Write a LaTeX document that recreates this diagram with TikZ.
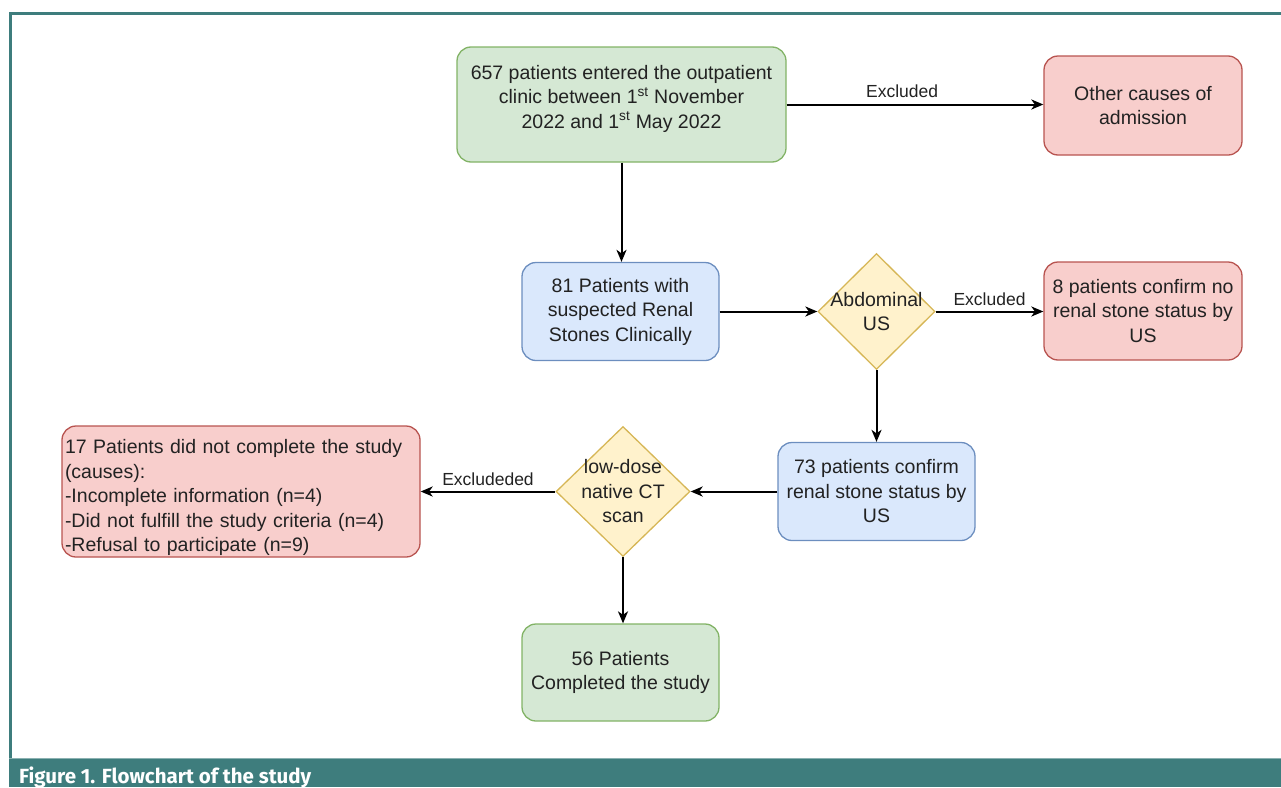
\documentclass[tikz,border=0pt]{standalone}
\usepackage{fontspec}
\setmainfont{Liberation Sans}
\newfontfamily\captionfont{Fira Sans}
\usepackage{tikz}
\usetikzlibrary{shapes.geometric,arrows.meta,positioning}

\definecolor{okfill}{HTML}{D5E8D4}
\definecolor{okline}{HTML}{82B366}
\definecolor{exfill}{HTML}{F8CECC}
\definecolor{exline}{HTML}{B85450}
\definecolor{stepfill}{HTML}{DAE8FC}
\definecolor{stepline}{HTML}{6C8EBF}
\definecolor{testfill}{HTML}{FFF2CC}
\definecolor{testline}{HTML}{D6B656}
\definecolor{frameteal}{HTML}{3E7D7D}
\definecolor{inktext}{HTML}{222222}

\tikzset{
  box/.style={draw, rounded corners=14pt, line width=1.3pt, align=center,
    inner sep=2pt, text=inktext, font=\fontsize{19.5}{24.5}\selectfont},
  okbox/.style={box, fill=okfill, draw=okline},
  exbox/.style={box, fill=exfill, draw=exline},
  stepbox/.style={box, fill=stepfill, draw=stepline},
  test/.style={diamond, draw=testline, fill=testfill, line width=1.3pt,
    inner sep=0pt, aspect=1},
  boxtext/.style={align=center, text=inktext, inner sep=0pt,
    font=\fontsize{19.5}{24.5}\selectfont},
  flow/.style={-{Stealth[length=12pt, width=10pt, inset=3.5pt]}, line width=2pt},
  lbl/.style={text=inktext, font=\fontsize{17.5}{21}\selectfont}
}

\begin{document}
\begin{tikzpicture}[x=1pt, y=-1pt]
\useasboundingbox (0,0) rectangle (1281,787);
% frame and caption bar
\fill[frameteal] (9,758) rectangle (1281,787);
\draw[frameteal!60!white, line width=1pt] (9,758.5) -- (1281,758.5);
\draw[frameteal, line width=3pt] (10.5,758) -- (10.5,13.5) -- (1281,13.5);
\node[anchor=base west, text=white, inner sep=0pt,
  font=\captionfont\bfseries\fontsize{20.5}{24}\selectfont] (caption) at (19,783)
  {Figure 1. Flowchart of the study};

% boxes
\node[okbox, minimum width=329, minimum height=115,
  label={[boxtext, yshift=6]center:657 patients entered the outpatient\\clinic between 1\textsuperscript{st} November\\2022 and 1\textsuperscript{st} May 2022}]
  (entered) at (621.5,104.5) {};
\node[exbox, minimum width=198, minimum height=99] (other_causes) at (1143,105.5)
  {Other causes of\\admission};
\node[stepbox, minimum width=197, minimum height=98] (suspected) at (620.5,311.5)
  {81 Patients with\\suspected Renal\\Stones Clinically};
\node[test, minimum width=117, minimum height=116,
  label={[boxtext]center:Abdominal\\US}] (abd_us) at (876.5,311.5) {};
\node[exbox, minimum width=198, minimum height=98] (no_stone) at (1143,311)
  {8 patients confirm no\\renal stone status by\\US};
\node[stepbox, minimum width=197, minimum height=98] (confirm) at (876.5,491.5)
  {73 patients confirm\\renal stone status by\\US};
\node[test, minimum width=134, minimum height=130,
  label={[boxtext]center:low-dose\\native CT\\scan}] (ct_scan) at (623,491.5) {};
\node[exbox, minimum width=358, minimum height=131,
  label={[boxtext, align=left, text width=352, yshift=-6]center:17 Patients did not complete the study\\(causes):\\-Incomplete information (n=4)\\-Did not fulfill the study criteria (n=4)\\-Refusal to participate (n=9)}]
  (not_complete) at (241,491.5) {};
\node[okbox, minimum width=197, minimum height=97] (completed) at (620.5,672.5)
  {56 Patients\\Completed the study};

% connectors
\draw[flow] (entered.east) -- (other_causes.west |- entered.east)
  node[lbl, pos=0.45, above=2pt] {Excluded};
\draw[flow] (entered.south) -- (suspected.north -| entered.south);
\draw[flow] (suspected.east) -- (abd_us.west);
\draw[flow] (abd_us.east) -- (no_stone.west |- abd_us.east)
  node[lbl, midway, above=2pt] {Excluded};
\draw[flow] (abd_us.south) -- (confirm.north);
\draw[flow] (confirm.west) -- (ct_scan.east);
\draw[flow] (ct_scan.west) -- (not_complete.east |- ct_scan.west)
  node[lbl, midway, above=2pt] {Excludeded};
\draw[flow] (ct_scan.south) -- (completed.north -| ct_scan.south);
\end{tikzpicture}
\end{document}
